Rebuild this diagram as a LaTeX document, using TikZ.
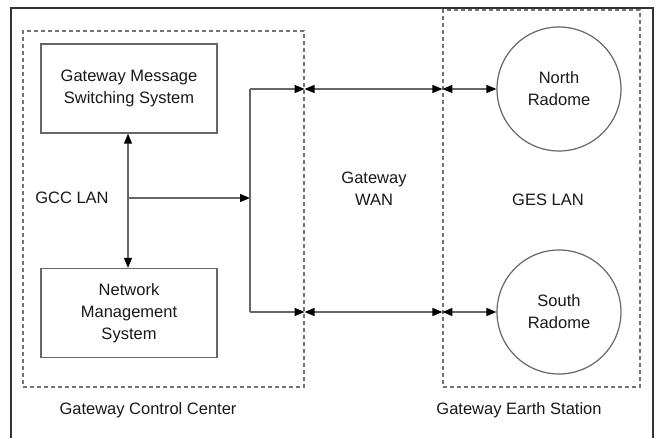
\documentclass[tikz,border=0pt]{standalone}
\usepackage{fontspec}
\setmainfont{Liberation Sans}
\usetikzlibrary{arrows.meta}
\begin{document}
\begin{tikzpicture}[x=1pt,y=-1pt,
  every node/.style={font=\fontsize{16.5}{22}\selectfont, text=black!90},
  sysbox/.style={draw=black!60, line width=1.3pt, minimum width=176pt, minimum height=89pt, inner sep=0pt, align=center},
  dashbox/.style={draw=black!55, line width=1.2pt, dash pattern=on 4pt off 3pt, inner sep=0pt},
  radome/.style={draw=black!60, line width=1.2pt, circle, minimum size=124pt, inner sep=0pt, align=center},
  link/.style={draw=black!60, line width=1.3pt},
  tip/.style={-{Triangle[length=10pt,width=8pt,color=black]}},
  tips/.style={{Triangle[length=10pt,width=8pt,color=black]}-{Triangle[length=10pt,width=8pt,color=black]}},
  lbl/.style={align=center, inner sep=0pt}]
\useasboundingbox (0,0) rectangle (660,438);
\fill[white] (0,0) rectangle (660,438);

% outer frame
\draw[black!80, line width=1.3pt] (11,438) -- (11,8) -- (653,8) -- (653,438);

% site enclosures
\node[dashbox, minimum width=281pt, minimum height=356pt] (gcc) at (163.5,209) {};
\node[dashbox, minimum width=197pt, minimum height=377pt] (ges) at (541.5,198.5) {};

% systems inside the control center
\node[sysbox] (gmss) at (129,88.5) {Gateway Message\\Switching System};
\node[sysbox] (nms) at (129,313) {Network\\Management\\System};

% radomes
\node[radome] (north) at (559,89) {North\\Radome};
\node[radome] (south) at (559,312) {South\\Radome};

% labels
\node[lbl] (gcclan) at (72,198) {GCC LAN};
\node[lbl] (wan) at (374,189) {Gateway\\WAN};
\node[lbl] (geslan) at (548,200) {GES LAN};
\node[lbl] (gcclabel) at (148,410) {Gateway Control Center};
\node[lbl] (geslabel) at (519,410) {Gateway Earth Station};

% LAN bus and WAN bracket
\coordinate (bus) at (128,198);
\coordinate (bt) at (250,89);
\coordinate (bb) at (250,312);
\coordinate (bm) at (250,198);
\coordinate (wt) at (gcc.east |- bt);
\coordinate (wb) at (gcc.east |- bb);
\coordinate (et) at (ges.west |- bt);
\coordinate (eb) at (ges.west |- bb);

\draw[link, tips] (gmss.south -| bus) -- (nms.north -| bus);
\draw[link, tip] (bus) -- (bm);
\draw[link] (bb) -- (bt);
\draw[link, tip] (bt) -- (wt);
\draw[link, tip] (bb) -- (wb);
\draw[link, tips] (wt) -- (et);
\draw[link, tips] (wb) -- (eb);
\draw[link, tips] (et) -- (north.west);
\draw[link, tips] (eb) -- (south.west);
\end{tikzpicture}
\end{document}
